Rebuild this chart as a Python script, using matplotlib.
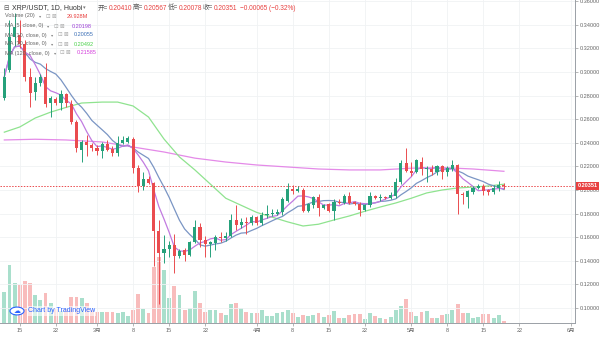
import pandas as pd
import matplotlib.pyplot as plt
import matplotlib.dates as mdates
import matplotlib.transforms as mtransforms
from matplotlib.patches import Circle

# XRP/USDT daily candles, Huobi, 2020-02-12 .. 2020-05-19
dates = pd.date_range("2020-02-12", periods=98, freq="D")

opens = [0.278, 0.302, 0.330, 0.331, 0.324, 0.296, 0.283, 0.291, 0.296, 0.274,
         0.277, 0.274, 0.281, 0.273, 0.258, 0.234, 0.241, 0.238, 0.236, 0.233,
         0.239, 0.235, 0.231, 0.240, 0.241, 0.243, 0.219, 0.203, 0.209, 0.206,
         0.165, 0.147, 0.150, 0.153, 0.144, 0.149, 0.145, 0.156, 0.169, 0.158,
         0.154, 0.155, 0.160, 0.159, 0.161, 0.175, 0.170, 0.173, 0.172, 0.177,
         0.172, 0.179, 0.180, 0.180, 0.181, 0.191, 0.201, 0.199, 0.200, 0.182,
         0.187, 0.194, 0.185, 0.188, 0.182, 0.190, 0.189, 0.195, 0.190, 0.188,
         0.183, 0.187, 0.195, 0.193, 0.194, 0.193, 0.195, 0.207, 0.223, 0.216,
         0.215, 0.224, 0.218, 0.218, 0.215, 0.220, 0.215, 0.218, 0.221, 0.197,
         0.194, 0.198, 0.202, 0.203, 0.200, 0.198, 0.202, 0.2041]
highs = [0.303, 0.344, 0.350, 0.344, 0.327, 0.303, 0.296, 0.298, 0.308, 0.280,
         0.279, 0.285, 0.282, 0.276, 0.259, 0.242, 0.247, 0.240, 0.238, 0.241,
         0.242, 0.237, 0.246, 0.246, 0.246, 0.245, 0.221, 0.215, 0.212, 0.207,
         0.175, 0.162, 0.157, 0.163, 0.150, 0.151, 0.157, 0.175, 0.172, 0.161,
         0.157, 0.162, 0.164, 0.164, 0.180, 0.187, 0.176, 0.177, 0.179, 0.178,
         0.181, 0.187, 0.184, 0.184, 0.194, 0.206, 0.204, 0.203, 0.202, 0.189,
         0.195, 0.197, 0.188, 0.189, 0.192, 0.192, 0.197, 0.198, 0.191, 0.190,
         0.188, 0.198, 0.196, 0.197, 0.195, 0.198, 0.210, 0.225, 0.236, 0.224,
         0.226, 0.228, 0.220, 0.221, 0.221, 0.221, 0.220, 0.225, 0.222, 0.198,
         0.200, 0.203, 0.205, 0.205, 0.201, 0.204, 0.208, 0.20567]
lows = [0.276, 0.300, 0.322, 0.320, 0.292, 0.270, 0.276, 0.288, 0.270, 0.262,
        0.272, 0.268, 0.270, 0.256, 0.232, 0.224, 0.229, 0.233, 0.230, 0.227,
        0.233, 0.229, 0.229, 0.239, 0.240, 0.214, 0.198, 0.200, 0.205, 0.136,
        0.103, 0.138, 0.143, 0.130, 0.142, 0.140, 0.144, 0.155, 0.152, 0.143,
        0.143, 0.149, 0.156, 0.157, 0.160, 0.166, 0.168, 0.163, 0.170, 0.170,
        0.170, 0.176, 0.178, 0.179, 0.179, 0.190, 0.197, 0.198, 0.181, 0.181,
        0.185, 0.178, 0.184, 0.181, 0.175, 0.188, 0.188, 0.188, 0.187, 0.178,
        0.182, 0.186, 0.192, 0.191, 0.192, 0.192, 0.193, 0.205, 0.215, 0.212,
        0.214, 0.213, 0.207, 0.213, 0.213, 0.209, 0.212, 0.216, 0.180, 0.188,
        0.185, 0.197, 0.201, 0.196, 0.196, 0.197, 0.199, 0.20078]
closes = [0.296, 0.330, 0.338, 0.324, 0.296, 0.282, 0.291, 0.296, 0.273, 0.278,
          0.274, 0.281, 0.274, 0.258, 0.236, 0.241, 0.238, 0.236, 0.233, 0.239,
          0.234, 0.231, 0.240, 0.242, 0.244, 0.219, 0.203, 0.209, 0.206, 0.165,
          0.147, 0.150, 0.153, 0.144, 0.148, 0.145, 0.156, 0.169, 0.158, 0.154,
          0.156, 0.160, 0.159, 0.161, 0.175, 0.170, 0.173, 0.172, 0.177, 0.172,
          0.179, 0.180, 0.180, 0.181, 0.192, 0.201, 0.199, 0.201, 0.182, 0.188,
          0.194, 0.185, 0.187, 0.182, 0.190, 0.189, 0.195, 0.189, 0.188, 0.183,
          0.187, 0.195, 0.193, 0.194, 0.193, 0.196, 0.207, 0.223, 0.216, 0.214,
          0.225, 0.218, 0.218, 0.215, 0.220, 0.215, 0.219, 0.221, 0.197, 0.196,
          0.199, 0.202, 0.203, 0.199, 0.198, 0.202, 0.204, 0.20351]
# volume, millions
volumes = [465, 870, 600, 570, 630, 600, 420, 345, 450, 300,
           225, 180, 210, 390, 390, 375, 300, 195, 165, 165,
           165, 165, 150, 165, 105, 195, 435, 210, 150, 840,
           990, 795, 375, 555, 420, 195, 225, 480, 300, 165,
           195, 195, 150, 120, 285, 300, 225, 165, 150, 150,
           195, 105, 105, 150, 165, 195, 150, 90, 120, 105,
           120, 150, 90, 120, 180, 75, 75, 120, 135, 135,
           60, 150, 105, 75, 60, 90, 195, 255, 360, 165,
           105, 165, 180, 75, 75, 120, 135, 195, 285, 150,
           150, 75, 90, 135, 135, 75, 120, 29.928]

# long MAs (need history before the first candle)
ma30_idx = [0, 3, 6, 9, 12, 15, 19, 22, 25, 28, 31, 34, 37, 40, 43, 46, 49,
            52, 55, 58, 61, 64, 67, 70, 73, 76, 79, 82, 85, 88, 91, 94, 97]
ma30_val = [0.249, 0.2534, 0.261, 0.266, 0.270, 0.2737, 0.2745, 0.2745, 0.2712,
            0.2618, 0.2432, 0.228, 0.217, 0.205, 0.193, 0.187, 0.181, 0.177,
            0.173, 0.1695, 0.171, 0.1746, 0.178, 0.182, 0.1856, 0.189, 0.193,
            0.1975, 0.200, 0.2017, 0.2025, 0.2034, 0.20492]
ma120_idx = [0, 6, 12, 19, 25, 31, 37, 43, 49, 55, 61, 67, 73, 79, 85, 91, 97]
ma120_val = [0.2424, 0.243, 0.2424, 0.2407, 0.2364, 0.2322, 0.227, 0.2237,
             0.2212, 0.2195, 0.2178, 0.217, 0.217, 0.2185, 0.219, 0.2178, 0.21585]

tick_dates = ["2020-02-15", "2020-02-22", "2020-03-01", "2020-03-08", "2020-03-15",
              "2020-03-22", "2020-04-01", "2020-04-08", "2020-04-15", "2020-04-22",
              "2020-05-01", "2020-05-08", "2020-05-15", "2020-05-22", "2020-06-01"]
tick_labels = ["15", "22", "3月", "8", "15", "22", "4月", "8", "15", "22",
               "5月", "8", "15", "22", "6月"]

plt.rcParams["font.family"] = ["Liberation Sans", "Noto Sans CJK SC", "DejaVu Sans"]

UP = "#26a17b"
DOWN = "#ea4c4f"
UP_VOL = "#a9dfcc"
DOWN_VOL = "#f8bcbc"

df = pd.DataFrame({"open": opens, "high": highs, "low": lows,
                   "close": closes, "volume": volumes}, index=dates)
df["ma5"] = df["close"].rolling(5, min_periods=1).mean()
df["ma10"] = df["close"].rolling(10, min_periods=1).mean()
up = df["close"] >= df["open"]

fig = plt.figure(figsize=(6, 3.37), dpi=100)
ax = fig.add_axes([0, 14 / 337, 575 / 600, 323 / 337])
axv = ax.twinx()
ax.set_zorder(axv.get_zorder() + 1)
ax.patch.set_visible(False)

x = mdates.date2num(df.index)

# volume
axv.bar(x, df["volume"], width=0.75, color=[UP_VOL if u else DOWN_VOL for u in up])
axv.set_ylim(0, 323 * 15)
axv.set_yticks([])
for s in axv.spines.values():
    s.set_visible(False)

# moving averages
ax.plot(x[ma120_idx], ma120_val, color="#e48ae8", lw=0.9, zorder=2)
ax.plot(x[ma30_idx], ma30_val, color="#8fe38f", lw=0.9, zorder=2)
ax.plot(x, df["ma10"], color="#7a95c4", lw=0.9, zorder=2)
ax.plot(x, df["ma5"], color="#c17be0", lw=0.9, zorder=2)

# candles
cols = [UP if u else DOWN for u in up]
ax.vlines(x, df["low"], df["high"], colors=cols, lw=0.7, zorder=3)
body = (df["close"] - df["open"]).abs().clip(lower=0.0009)
ax.bar(x, body, bottom=df[["open", "close"]].min(axis=1), width=0.6,
       color=cols, zorder=4)

# last price line + label
last = closes[-1]
ax.axhline(last, color=DOWN, lw=0.7, ls=(0, (1.5, 1.5)), zorder=1)
tr = mtransforms.blended_transform_factory(ax.transAxes, ax.transData)
ax.text(1.004, last, "%.5f" % last, transform=tr, ha="left", va="center",
        fontsize=4.0, color="white", fontweight="bold", clip_on=False, zorder=6,
        bbox=dict(boxstyle="square,pad=0.3", fc="#e8403f", ec="none"))

# axes styling
ax.set_xlim(mdates.date2num(pd.Timestamp("2020-02-12")) - 0.84,
            mdates.date2num(pd.Timestamp("2020-02-12")) + 110.8)
ax.set_ylim(0.0873, 0.361)
ax.yaxis.tick_right()
ax.set_yticks([0.10 + 0.02 * k for k in range(14)])
ax.yaxis.set_major_formatter(plt.FormatStrFormatter("%.5f"))
ax.set_xticks(mdates.date2num(pd.to_datetime(tick_dates)))
ax.set_xticklabels(tick_labels)
ax.tick_params(axis="both", labelsize=4.0, colors="#999", length=2, width=0.5,
               pad=1.5, labelcolor="#666")
ax.grid(True, color="#f0f2f4", lw=0.6)
ax.set_axisbelow(True)
for side in ["left", "top"]:
    ax.spines[side].set_visible(False)
for side in ["right", "bottom"]:
    ax.spines[side].set_color("#9aa0a6")
    ax.spines[side].set_linewidth(0.7)


def px(xp, yp):
    return xp / 600, 1 - yp / 337


# header
hs = 4.7
fig.text(*px(3, 8), "⊟", fontsize=hs, color="#555", va="center",
         family=["DejaVu Sans"])
fig.text(*px(12, 8), "XRP/USDT, 1D, Huobi", fontsize=hs + 0.3, color="#333", va="center")
fig.text(*px(83, 8), "▾", fontsize=3.8, color="#777", va="center", family=["DejaVu Sans"])
for lx, lab, val in [(98, "开=", "0.20410"), (133, "高=", "0.20567"),
                     (168, "低=", "0.20078"), (203, "收=", "0.20351")]:
    fig.text(*px(lx, 8), lab, fontsize=hs, color="#555", va="center")
    fig.text(*px(lx + 11, 8), val, fontsize=hs, color="#e8403f", va="center")
fig.text(*px(240, 8), "−0.00065 (−0.32%)", fontsize=hs, color="#e8403f", va="center")

# indicator legend
ls = 4.0
rows = [(16, "Volume (20)", 45, "29.928M", 67, "#e8403f"),
        (26, "MA (5, close, 0)", 53, "0.20198", 72, "#9b3fd6"),
        (35, "MA (10, close, 0)", 57, "0.20055", 74, "#3b6fb6"),
        (44, "MA (30, close, 0)", 57, "0.20492", 74, "#49d149"),
        (53, "MA (120, close, 0)", 60, "0.21585", 77, "#d43fdc")]
for yy, name, ix, val, vx, c in rows:
    fig.text(*px(5, yy), name, fontsize=ls, color="#666", va="center")
    fig.text(*px(ix - 6, yy), "▾", fontsize=3.2, color="#888", va="center",
             family=["DejaVu Sans"])
    fig.text(*px(ix, yy), "⊡", fontsize=ls, color="#aaa", va="center",
             family=["DejaVu Sans"])
    fig.text(*px(ix + 6, yy), "⊠", fontsize=ls, color="#aaa", va="center",
             family=["DejaVu Sans"])
    fig.text(*px(vx, yy), val, fontsize=ls, color=c, va="center")

# watermark logo
fig.patches.append(Circle(px(17, 311), 7 / 600, transform=fig.transFigure,
                          fc="white", ec="#2962ff", lw=0.8, zorder=10))
fig.text(*px(17, 311), "☁", fontsize=5, color="#2962ff", ha="center", va="center",
         family=["DejaVu Sans"], zorder=11)
fig.text(*px(28, 311), "Chart by TradingView", fontsize=5.0, color="#2962ff",
         va="center", zorder=11,
         bbox=dict(boxstyle="square,pad=0.15", fc="white", ec="none", alpha=0.6))

fig.savefig("out.png", dpi=100)
